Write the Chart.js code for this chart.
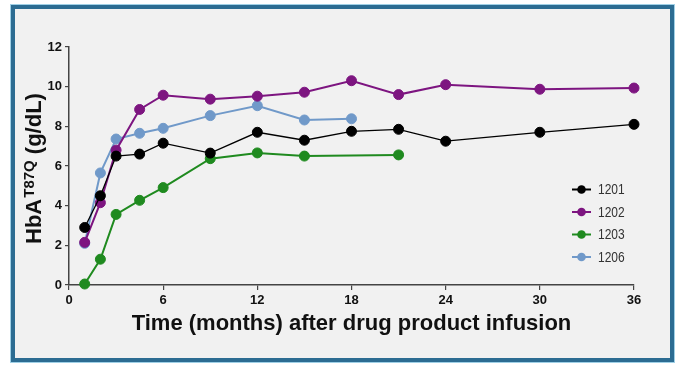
<!DOCTYPE html>
<html>
<head>
<meta charset="utf-8">
<script src="https://cdn.jsdelivr.net/npm/chart.js@4.4.1/dist/chart.umd.min.js"></script>
<style>
  html, body { margin: 0; padding: 0; background: #ffffff; }
  #frame {
    position: absolute; left: 11px; top: 5px;
    width: 655px; height: 349px;
    border: 4px solid #2c6c92;
    box-shadow: 0 0 0 1px #9fd0e6;
    background: #f1f1f1;
  }
  #wrap { position: absolute; left: 0; top: 0; width: 678px; height: 365px; }
</style>
</head>
<body>
<div id="frame"></div>
<div id="wrap"><canvas id="c" width="678" height="365"></canvas></div>
<script>
// Patient series: months after infusion and HbA(T87Q) in g/dL
const patients = ['1201', '1202', '1203', '1206'];

const months1201 = [1, 2, 3, 4.5, 6, 9, 12, 15, 18, 21, 24, 30, 36];
const hba1201    = [2.9, 4.5, 6.5, 6.6, 7.15, 6.65, 7.7, 7.3, 7.75, 7.85, 7.25, 7.7, 8.1];

const months1202 = [1, 2, 3, 4.5, 6, 9, 12, 15, 18, 21, 24, 30, 36];
const hba1202    = [2.15, 4.15, 6.8, 8.85, 9.57, 9.37, 9.52, 9.72, 10.3, 9.6, 10.1, 9.87, 9.93];

const months1203 = [1, 2, 3, 4.5, 6, 9, 12, 15, 21];
const hba1203    = [0.05, 1.3, 3.56, 4.27, 4.91, 6.37, 6.66, 6.5, 6.56];

const months1206 = [1, 2, 3, 4.5, 6, 9, 12, 15, 18];
const hba1206    = [2.1, 5.65, 7.36, 7.65, 7.9, 8.54, 9.04, 8.32, 8.38];

const xTicks = [0, 6, 12, 18, 24, 30, 36];
const yTicks = [0, 2, 4, 6, 8, 10, 12];

const colors = ['#000000', '#7d1580', '#1f8a1f', '#7099c9'];
const widths = [1.3, 2, 2, 2];

function pts(xs, ys) { return xs.map((x, i) => ({ x: x, y: ys[i] })); }
const seriesData = [pts(months1201, hba1201), pts(months1202, hba1202),
                    pts(months1203, hba1203), pts(months1206, hba1206)];

const datasets = patients.map((name, i) => ({
  label: name,
  data: seriesData[i],
  borderColor: colors[i],
  backgroundColor: colors[i],
  pointBackgroundColor: colors[i],
  pointBorderColor: colors[i],
  borderWidth: widths[i],
  pointRadius: 5,
  pointBorderWidth: 1,
  tension: 0,
  clip: false
}));

// Rotated y-axis title with a superscript
const yTitlePlugin = {
  id: 'yTitle',
  afterDraw(chart) {
    const ctx = chart.ctx;
    ctx.save();
    ctx.translate(40.5, 244);
    ctx.rotate(-Math.PI / 2);
    ctx.fillStyle = '#111';
    ctx.textBaseline = 'alphabetic';
    ctx.textAlign = 'left';
    let x = 0;
    ctx.font = 'bold 22px "Liberation Sans", Arial, sans-serif';
    ctx.fillText('HbA', x, 0);
    x += ctx.measureText('HbA').width + 1;
    ctx.font = 'bold 15px "Liberation Sans", Arial, sans-serif';
    ctx.fillText('T87Q', x, -7);
    x += ctx.measureText('T87Q').width;
    ctx.font = 'bold 22px "Liberation Sans", Arial, sans-serif';
    ctx.fillText(' (g/dL)', x, 0);
    ctx.restore();
  }
};

// Legend inside the plot area, marker with line through a dot
const legendPlugin = {
  id: 'innerLegend',
  afterDraw(chart) {
    const ctx = chart.ctx;
    chart.data.datasets.forEach((ds, i) => {
      const y = 189.5 + i * 22.5;
      ctx.save();
      ctx.strokeStyle = ds.borderColor;
      ctx.lineWidth = 2;
      ctx.beginPath();
      ctx.moveTo(572, y);
      ctx.lineTo(591, y);
      ctx.stroke();
      ctx.fillStyle = ds.borderColor;
      ctx.beginPath();
      ctx.arc(581.5, y, 4.3, 0, Math.PI * 2);
      ctx.fill();
      // condensed label text
      ctx.translate(598, y + 0.5);
      ctx.scale(0.8, 1);
      ctx.fillStyle = '#333';
      ctx.font = '15px "Liberation Sans", Arial, sans-serif';
      ctx.textBaseline = 'middle';
      ctx.textAlign = 'left';
      ctx.fillText(ds.label, 0, 0);
      ctx.restore();
    });
  }
};

new Chart(document.getElementById('c'), {
  type: 'line',
  data: { datasets: datasets },
  options: {
    responsive: false,
    animation: false,
    layout: { padding: { left: 0, top: 47, right: 44, bottom: 27.5 } },
    plugins: { legend: { display: false }, tooltip: { enabled: false } },
    scales: {
      x: {
        type: 'linear',
        min: 0, max: 36,
        afterFit(s) { s.height = 52.5; },
        afterBuildTicks(s) { s.ticks = xTicks.map(v => ({ value: v })); },
        grid: { display: true, drawOnChartArea: false, drawTicks: true, tickLength: 5, color: '#444', lineWidth: 1.2 },
        border: { display: true, color: '#444', width: 1.5 },
        ticks: {
          color: '#111', padding: 3,
          font: { family: '"Liberation Sans", Arial, sans-serif', size: 13, weight: 'bold' }
        },
        title: {
          display: true,
          text: 'Time (months) after drug product infusion',
          color: '#111',
          padding: { top: 0, bottom: 0 },
          font: { family: '"Liberation Sans", Arial, sans-serif', size: 22, weight: 'bold', lineHeight: 1.2 }
        }
      },
      y: {
        type: 'linear',
        min: 0, max: 12,
        afterFit(s) { s.width = 69; },
        afterBuildTicks(s) { s.ticks = yTicks.map(v => ({ value: v })); },
        grid: { display: true, drawOnChartArea: false, drawTicks: true, tickLength: 4, color: '#444', lineWidth: 1.2 },
        border: { display: true, color: '#444', width: 1.5 },
        ticks: {
          color: '#111', padding: 3,
          font: { family: '"Liberation Sans", Arial, sans-serif', size: 13, weight: 'bold' }
        }
      }
    }
  },
  plugins: [yTitlePlugin, legendPlugin]
});
</script>
</body>
</html>
